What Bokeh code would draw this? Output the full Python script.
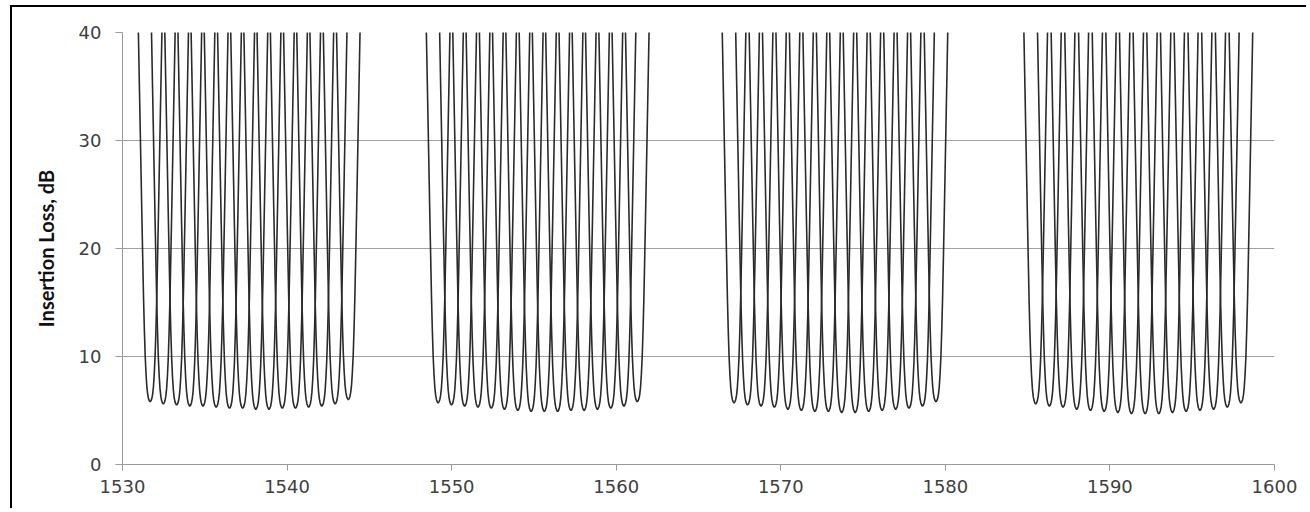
from bokeh.plotting import figure
from bokeh.models import Range1d, FixedTicker
from bokeh.embed import file_html
from bokeh.resources import INLINE

# Channel centre wavelengths (nm), four bands of 16 channels
band1_nm = [1531.68, 1532.48, 1533.29, 1534.09, 1534.89, 1535.69, 1536.50, 1537.30,
            1538.10, 1538.90, 1539.71, 1540.51, 1541.31, 1542.11, 1542.92, 1543.72]
band2_nm = [1549.18, 1549.99, 1550.79, 1551.60, 1552.41, 1553.21, 1554.02, 1554.83,
            1555.63, 1556.44, 1557.25, 1558.05, 1558.86, 1559.67, 1560.47, 1561.28]
band3_nm = [1567.16, 1567.98, 1568.80, 1569.61, 1570.43, 1571.25, 1572.07, 1572.89,
            1573.70, 1574.52, 1575.34, 1576.16, 1576.98, 1577.79, 1578.61, 1579.43]
band4_nm = [1585.49, 1586.32, 1587.15, 1587.98, 1588.82, 1589.65, 1590.48, 1591.31,
            1592.14, 1592.97, 1593.80, 1594.63, 1595.47, 1596.30, 1597.13, 1597.96]

# Minimum insertion loss of each channel (dB)
band1_il = [5.8, 5.6, 5.5, 5.4, 5.4, 5.3, 5.2, 5.2, 5.1, 5.1, 5.2, 5.2, 5.3, 5.4, 5.6, 6.0]
band2_il = [5.7, 5.5, 5.4, 5.3, 5.2, 5.1, 5.0, 4.9, 4.9, 4.9, 5.0, 5.0, 5.1, 5.2, 5.4, 5.8]
band3_il = [5.7, 5.5, 5.4, 5.3, 5.1, 5.0, 4.9, 4.9, 4.8, 4.8, 4.9, 5.0, 5.1, 5.2, 5.4, 5.8]
band4_il = [5.6, 5.4, 5.3, 5.1, 5.0, 4.9, 4.8, 4.7, 4.7, 4.7, 4.8, 4.9, 5.0, 5.1, 5.3, 5.7]

# Passband shape: detuning (nm) vs. loss above minimum (dB)
shape_offset_nm = [0.00, 0.05, 0.10, 0.15, 0.20, 0.25, 0.30, 0.35, 0.40, 0.45,
                   0.50, 0.55, 0.60, 0.65, 0.70, 0.75, 0.80]
shape_extra_db = [0.0, 0.1, 0.3, 0.7, 1.4, 2.6, 4.2, 6.6, 9.5, 13.2,
                  17.0, 21.0, 25.0, 29.0, 33.0, 37.0, 41.0]

x_ticks = [1530, 1540, 1550, 1560, 1570, 1580, 1590, 1600]
y_ticks = [0, 10, 20, 30, 40]

centers = band1_nm + band2_nm + band3_nm + band4_nm
minima = band1_il + band2_il + band3_il + band4_il

offs = [-o for o in shape_offset_nm[::-1]] + shape_offset_nm[1:]
extra = shape_extra_db[::-1] + shape_extra_db[1:]

xs, ys = [], []
for c, m in zip(centers, minima):
    xs.append([c + o for o in offs])
    ys.append([m + e for e in extra])

p = figure(width=1296, height=503, output_backend="svg", toolbar_location=None,
           x_range=Range1d(1530, 1600), y_range=Range1d(0, 40),
           min_border_left=110, min_border_right=34, min_border_top=25, min_border_bottom=46)
p.margin = (5, 0, 0, 10)
p.styles = {"border-left": "2px solid #000000", "border-top": "2px solid #000000"}

p.multi_line(xs, ys, line_color="#2a2a2a", line_width=1.6)

p.outline_line_color = None
p.xgrid.visible = False
p.ygrid.ticker = FixedTicker(ticks=y_ticks)
p.ygrid.grid_line_color = "#a0a0a0"
p.ygrid.grid_line_width = 1

p.xaxis.ticker = FixedTicker(ticks=x_ticks)
p.yaxis.ticker = FixedTicker(ticks=y_ticks)
for ax in (p.xaxis[0], p.yaxis[0]):
    ax.axis_line_color = "#9a9a9a"
    ax.major_tick_line_color = "#9a9a9a"
    ax.minor_tick_line_color = None
    ax.major_tick_in = 0
    ax.major_label_text_font = "DejaVu Sans"
    ax.major_label_text_font_size = "18px"
    ax.major_label_text_color = "#404040"
p.xaxis.major_tick_out = 6
p.yaxis.major_tick_out = 7
p.xaxis.major_label_standoff = 9
p.yaxis.major_label_standoff = 14

p.yaxis.axis_label = "Insertion Loss, dB"
p.yaxis.axis_label_text_font = "Lato"
p.yaxis.axis_label_text_font_style = "bold"
p.yaxis.axis_label_text_font_size = "20px"
p.yaxis.axis_label_text_color = "#111111"
p.yaxis.axis_label_standoff = 18

open("out.html", "w").write(file_html(p, INLINE))
